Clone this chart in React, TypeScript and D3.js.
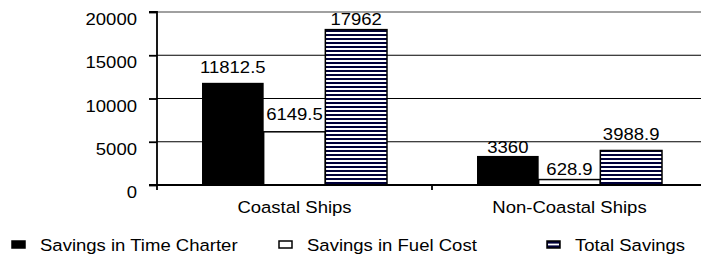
import React, { useEffect, useRef } from "react";
import * as d3 from "d3";

// data
const categories = ["Coastal Ships", "Non-Coastal Ships"];
const seriesNames = ["Savings in Time Charter", "Savings in Fuel Cost", "Total Savings"];
const timeCharter = [11812.5, 3360];
const fuelCost = [6149.5, 628.9];
const totalSavings = [17962, 3988.9];
const valueLabels = [
  ["11812.5", "3360"],
  ["6149.5", "628.9"],
  ["17962", "3988.9"],
];
const yTicks = [0, 5000, 10000, 15000, 20000];

const W = 701;
const H = 258;
const FONT = "'Liberation Sans', Arial, sans-serif";
const FS = 17;
const SX = 1.09; // the picture's text is a little wider than tall
// how far each value label sits above its bar (as in the picture)
const labelLift = [
  [10, 3],
  [12, 5],
  [5, 10],
];

const App = () => {
  const svgRef = useRef<SVGSVGElement>(null);

  useEffect(() => {
    const svg = d3.select(svgRef.current);
    svg.selectAll("*").remove();

    const left = 157;
    const right = 707;
    const top = 12;
    const bottom = 185;

    const series = [timeCharter, fuelCost, totalSavings];

    const y = d3.scaleLinear().domain([0, 20000]).range([bottom, top]);
    const x0 = d3.scaleBand().domain(categories).range([left, right]).padding(0);
    const x1 = d3
      .scaleBand()
      .domain(seriesNames)
      .range([0, x0.bandwidth()])
      .paddingInner(0)
      .paddingOuter(0.73);

    // stretched text helper
    const label = (g, x, yy, txt, anchor = "start") =>
      g
        .append("text")
        .attr("transform", `translate(${x},${yy}) scale(${SX},1)`)
        .attr("text-anchor", anchor)
        .attr("font-family", FONT)
        .attr("font-size", FS)
        .attr("fill", "#000")
        .text(txt);

    // stripe pattern for total savings
    const defs = svg.append("defs");
    const pat = defs
      .append("pattern")
      .attr("id", "stripes")
      .attr("patternUnits", "userSpaceOnUse")
      .attr("width", 8)
      .attr("height", 4);
    pat.append("rect").attr("width", 8).attr("height", 4).attr("fill", "#fff");
    pat.append("rect").attr("y", 2).attr("width", 8).attr("height", 2.2).attr("fill", "#00003a");

    const fills = ["#000", "#fff", "url(#stripes)"];

    // top border (grey)
    svg
      .append("line")
      .attr("x1", left)
      .attr("x2", right)
      .attr("y1", y(20000))
      .attr("y2", y(20000))
      .attr("stroke", "#808080")
      .attr("stroke-width", 1.5);

    // gridlines
    svg
      .append("g")
      .selectAll("line")
      .data(yTicks.filter((t) => t > 0 && t < 20000))
      .enter()
      .append("line")
      .attr("x1", left)
      .attr("x2", right)
      .attr("y1", (d) => y(d))
      .attr("y2", (d) => y(d))
      .attr("stroke", "#000")
      .attr("stroke-width", 1.2);

    // bars
    series.forEach((vals, si) => {
      svg
        .append("g")
        .selectAll("rect")
        .data(vals)
        .enter()
        .append("rect")
        .attr("x", (d, i) => (x0(categories[i]) as number) + (x1(seriesNames[si]) as number))
        .attr("y", (d) => y(d))
        .attr("width", x1.bandwidth())
        .attr("height", (d) => y(0) - y(d))
        .attr("fill", fills[si])
        .attr("stroke", "#000")
        .attr("stroke-width", si === 0 ? 0 : 1.5);
    });

    // value labels
    const gl = svg.append("g");
    series.forEach((vals, si) => {
      vals.forEach((v, i) => {
        const cx = (x0(categories[i]) as number) + (x1(seriesNames[si]) as number) + x1.bandwidth() / 2;
        label(gl, cx, y(v) - labelLift[si][i], valueLabels[si][i], "middle");
      });
    });

    // y axis
    const yAxis = d3.axisLeft(y).tickValues(yTicks).tickSize(8).tickFormat(() => "");
    const gy = svg.append("g").attr("transform", `translate(${left},0)`).call(yAxis);
    gy.select(".domain").attr("stroke", "#000").attr("stroke-width", 1.8).attr("d", `M-8,${top}H0V${bottom}H-8`);
    gy.selectAll(".tick line").attr("stroke", "#000").attr("stroke-width", 1.8);
    gy.selectAll(".tick text").remove();
    const gyl = svg.append("g");
    yTicks.forEach((t) => label(gyl, left - 20, y(t) + 13, String(t), "end"));

    // x axis
    const gx = svg.append("g").attr("transform", `translate(0,${bottom})`);
    gx.append("line")
      .attr("x1", left)
      .attr("x2", right)
      .attr("stroke", "#000")
      .attr("stroke-width", 1.8);
    gx.selectAll("line.tk")
      .data([...categories.map((c) => x0(c) as number), right])
      .enter()
      .append("line")
      .attr("class", "tk")
      .attr("x1", (d) => d)
      .attr("x2", (d) => d)
      .attr("y1", 0)
      .attr("y2", 5)
      .attr("stroke", "#000")
      .attr("stroke-width", 1.8);
    categories.forEach((c) => label(gx, (x0(c) as number) + x0.bandwidth() / 2, 28, c, "middle"));

    // legend
    const legendX = [12, 279, 547];
    const lg = svg.append("g");
    seriesNames.forEach((name, i) => {
      const g = lg.append("g").attr("transform", `translate(${legendX[i]},241)`);
      g.append("rect")
        .attr("width", 13)
        .attr("height", 7)
        .attr("fill", i === 2 ? "#00003a" : fills[i])
        .attr("stroke", "#000")
        .attr("stroke-width", 1.5);
      if (i === 2) {
        g.append("rect").attr("x", 1).attr("y", 2.6).attr("width", 11).attr("height", 1.8).attr("fill", "#fff");
      }
      label(g, 28, 10, name);
    });
  }, []);

  return (
    <div style={{ position: "absolute", left: 0, top: 0 }}>
      <svg ref={svgRef} width={W} height={H} style={{ display: "block", background: "#fff" }} />
    </div>
  );
};

export default App;
